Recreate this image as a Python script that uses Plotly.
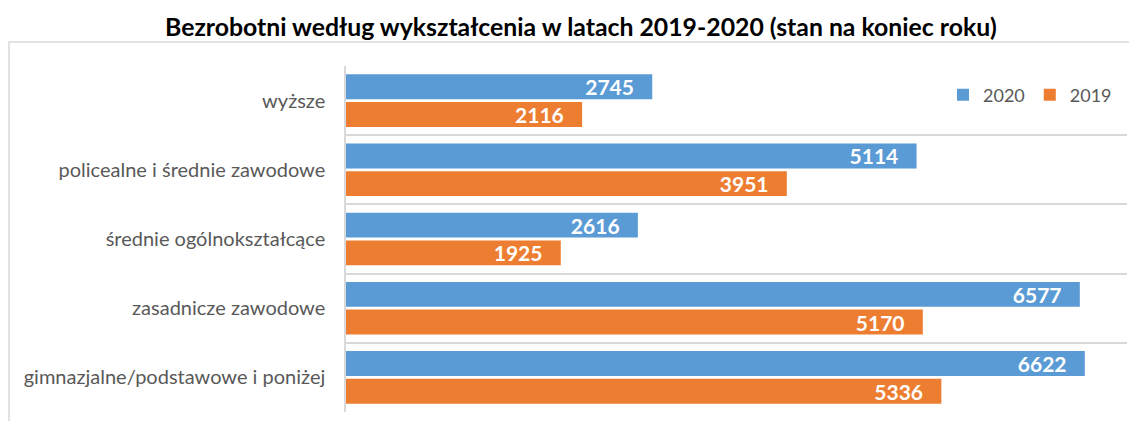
import plotly.graph_objects as go

categories = ["gimnazjalne/podstawowe i poniżej", "zasadnicze zawodowe",
              "średnie ogólnokształcące", "policealne i średnie zawodowe", "wyższe"]
values_2019 = [5336, 5170, 1925, 3951, 2116]
values_2020 = [6622, 6577, 2616, 5114, 2745]

BLUE = "#5B9BD5"
ORANGE = "#ED7D31"
FONT = "Lato"

# page body has an 8px margin; figure is sized so it fits the 1137x421 window
W, H = 1129, 413
L, R, T, B = 338, 10, 58, 9
PW, PH = W - L - R, H - T - B


def bar(vals, name, color):
    return go.Bar(
        y=categories, x=vals, orientation="h", name=name,
        marker=dict(color=color, line=dict(width=0)),
        text=[f"{v}   " for v in vals], textposition="inside",
        insidetextanchor="end", constraintext="none",
        textfont=dict(family=FONT, size=21, color="white", weight="bold"),
    )


fig = go.Figure([bar(values_2019, "2019", ORANGE), bar(values_2020, "2020", BLUE)])

fig.update_layout(
    width=W, height=H,
    margin=dict(l=L, r=R, t=T, b=B, autoexpand=False),
    paper_bgcolor="white", plot_bgcolor="white",
    barmode="group", bargap=0.2, bargroupgap=0.1,
    font=dict(family=FONT, color="#595959"),
    title=dict(text="<b>Bezrobotni według wykształcenia w latach 2019-2020 (stan na koniec roku)</b>",
               x=(581 - 8) / W, xanchor="center", xref="container",
               y=1 - 19 / H, yanchor="middle", yref="container",
               font=dict(family=FONT, size=24.8, color="black")),
    showlegend=True,
    legend=dict(orientation="h", x=(1117 - 8 - L) / PW, xanchor="right",
                y=(T + PH - (95 - 8)) / PH, yanchor="middle",
                traceorder="reversed", font=dict(family=FONT, size=18, color="#595959"),
                bgcolor="rgba(0,0,0,0)", itemwidth=30),
)
fig.update_xaxes(range=[0, 7000], showgrid=False, showticklabels=False, zeroline=False,
                 showline=False, ticks="")
fig.update_yaxes(type="category", categoryorder="array", categoryarray=categories,
                 tickson="boundaries", showgrid=True, gridcolor="#D9D9D9", gridwidth=1.5,
                 showline=True, linecolor="#D9D9D9", linewidth=1.5, ticks="",
                 tickfont=dict(family=FONT, size=20, color="#595959"), ticklabelstandoff=15,
                 automargin=False)

# outer chart-area border
fig.add_shape(type="rect", xref="paper", yref="paper",
              x0=(1 - L) / PW, x1=(W + 10 - L) / PW,
              y0=-20 / PH, y1=(T + PH - 34) / PH,
              line=dict(color="#D9D9D9", width=1.5), fillcolor="rgba(0,0,0,0)", layer="below")

fig.write_html("out.html")
